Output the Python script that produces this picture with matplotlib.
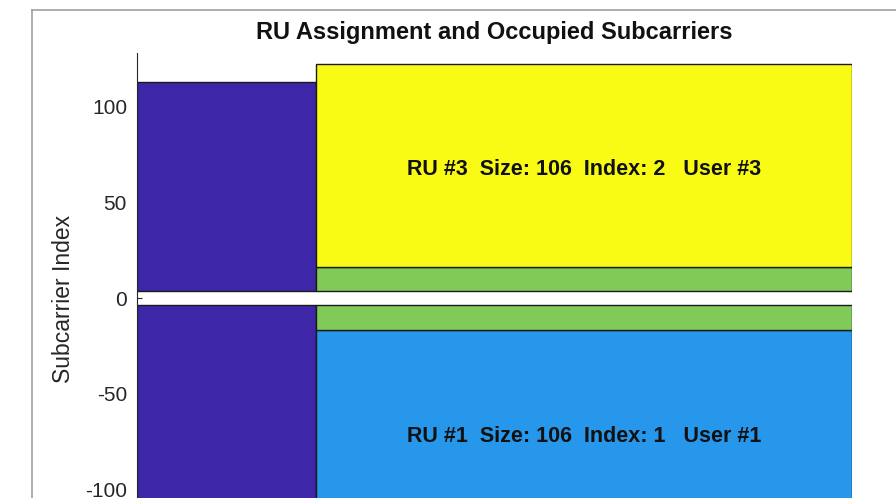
import matplotlib
matplotlib.use('Agg')
import matplotlib.pyplot as plt
from matplotlib.lines import Line2D

plt.rcParams['font.family'] = ['Liberation Sans', 'DejaVu Sans']
plt.rcParams['axes.unicode_minus'] = False

# left column: occupied subcarriers
occ_lo = [-113, 3.5]
occ_hi = [-3.5, 113]

# right column: RU assignment
ru_lo = [-122.5, -16.5, 3.5, 16.5]
ru_hi = [-16.5, -3.5, 16.5, 122.5]
ru_colors = ['#2797eb', '#80cb58', '#80cb58', '#f9fb15']
ru_text = ['RU #1  Size: 106  Index: 1   User #1', '', '',
           'RU #3  Size: 106  Index: 2   User #3']

yticks = [-100, -50, 0, 50, 100]

W, H = 896, 498
fig = plt.figure(figsize=(W / 100, H / 100), dpi=100)

# axes box in pixels (extends below the visible area)
left, right, top, bottom = 137, 852, 53, 543.3
ax = fig.add_axes([left / W, 1 - bottom / H, (right - left) / W, (bottom - top) / H])

# figure window border
fig.add_artist(Line2D([32 / W, 1], [1 - 10 / H, 1 - 10 / H], transform=fig.transFigure,
                      color='#a0a0a0', lw=1.2))
fig.add_artist(Line2D([32 / W, 32 / W], [0, 1 - 10 / H], transform=fig.transFigure,
                      color='#a0a0a0', lw=1.2))

occ_h = [h - l for l, h in zip(occ_lo, occ_hi)]
ax.bar([0] * len(occ_lo), occ_h, bottom=occ_lo, width=1, align='edge',
       color='#3e26a8', edgecolor='#1a1a1a', linewidth=1.0)

ru_h = [h - l for l, h in zip(ru_lo, ru_hi)]
ax.bar([1] * len(ru_lo), ru_h, bottom=ru_lo, width=3, align='edge',
       color=ru_colors, edgecolor='#1a1a1a', linewidth=1.0)

for lo, hi, txt in zip(ru_lo, ru_hi, ru_text):
    if txt:
        ax.text(2.5, (lo + hi) / 2 - 2.5, txt, ha='center', va='center',
                fontsize=15.5, fontweight='bold', color='#111111')

ax.set_xlim(0, 4)
ax.set_ylim(-128, 128)
ax.set_axisbelow(True)
ax.set_xticks([])
ax.set_yticks(yticks)
ax.tick_params(axis='y', direction='in', length=3.6, width=0.8, colors='#262626',
               labelsize=15, pad=7.2)
for s in ['top', 'right', 'bottom']:
    ax.spines[s].set_visible(False)
ax.spines['left'].set_color('#262626')
ax.spines['left'].set_linewidth(0.8)

ax.set_title('RU Assignment and Occupied Subcarriers', fontsize=17,
             fontweight='bold', color='#111111', pad=10)
ax.set_ylabel('Subcarrier Index', fontsize=16.5, color='#262626')
ax.yaxis.set_label_coords((63 - left) / (right - left), (bottom - 298.5) / (bottom - top))
ax.yaxis.label.set_verticalalignment('center')

fig.savefig('out.png', dpi=100)
